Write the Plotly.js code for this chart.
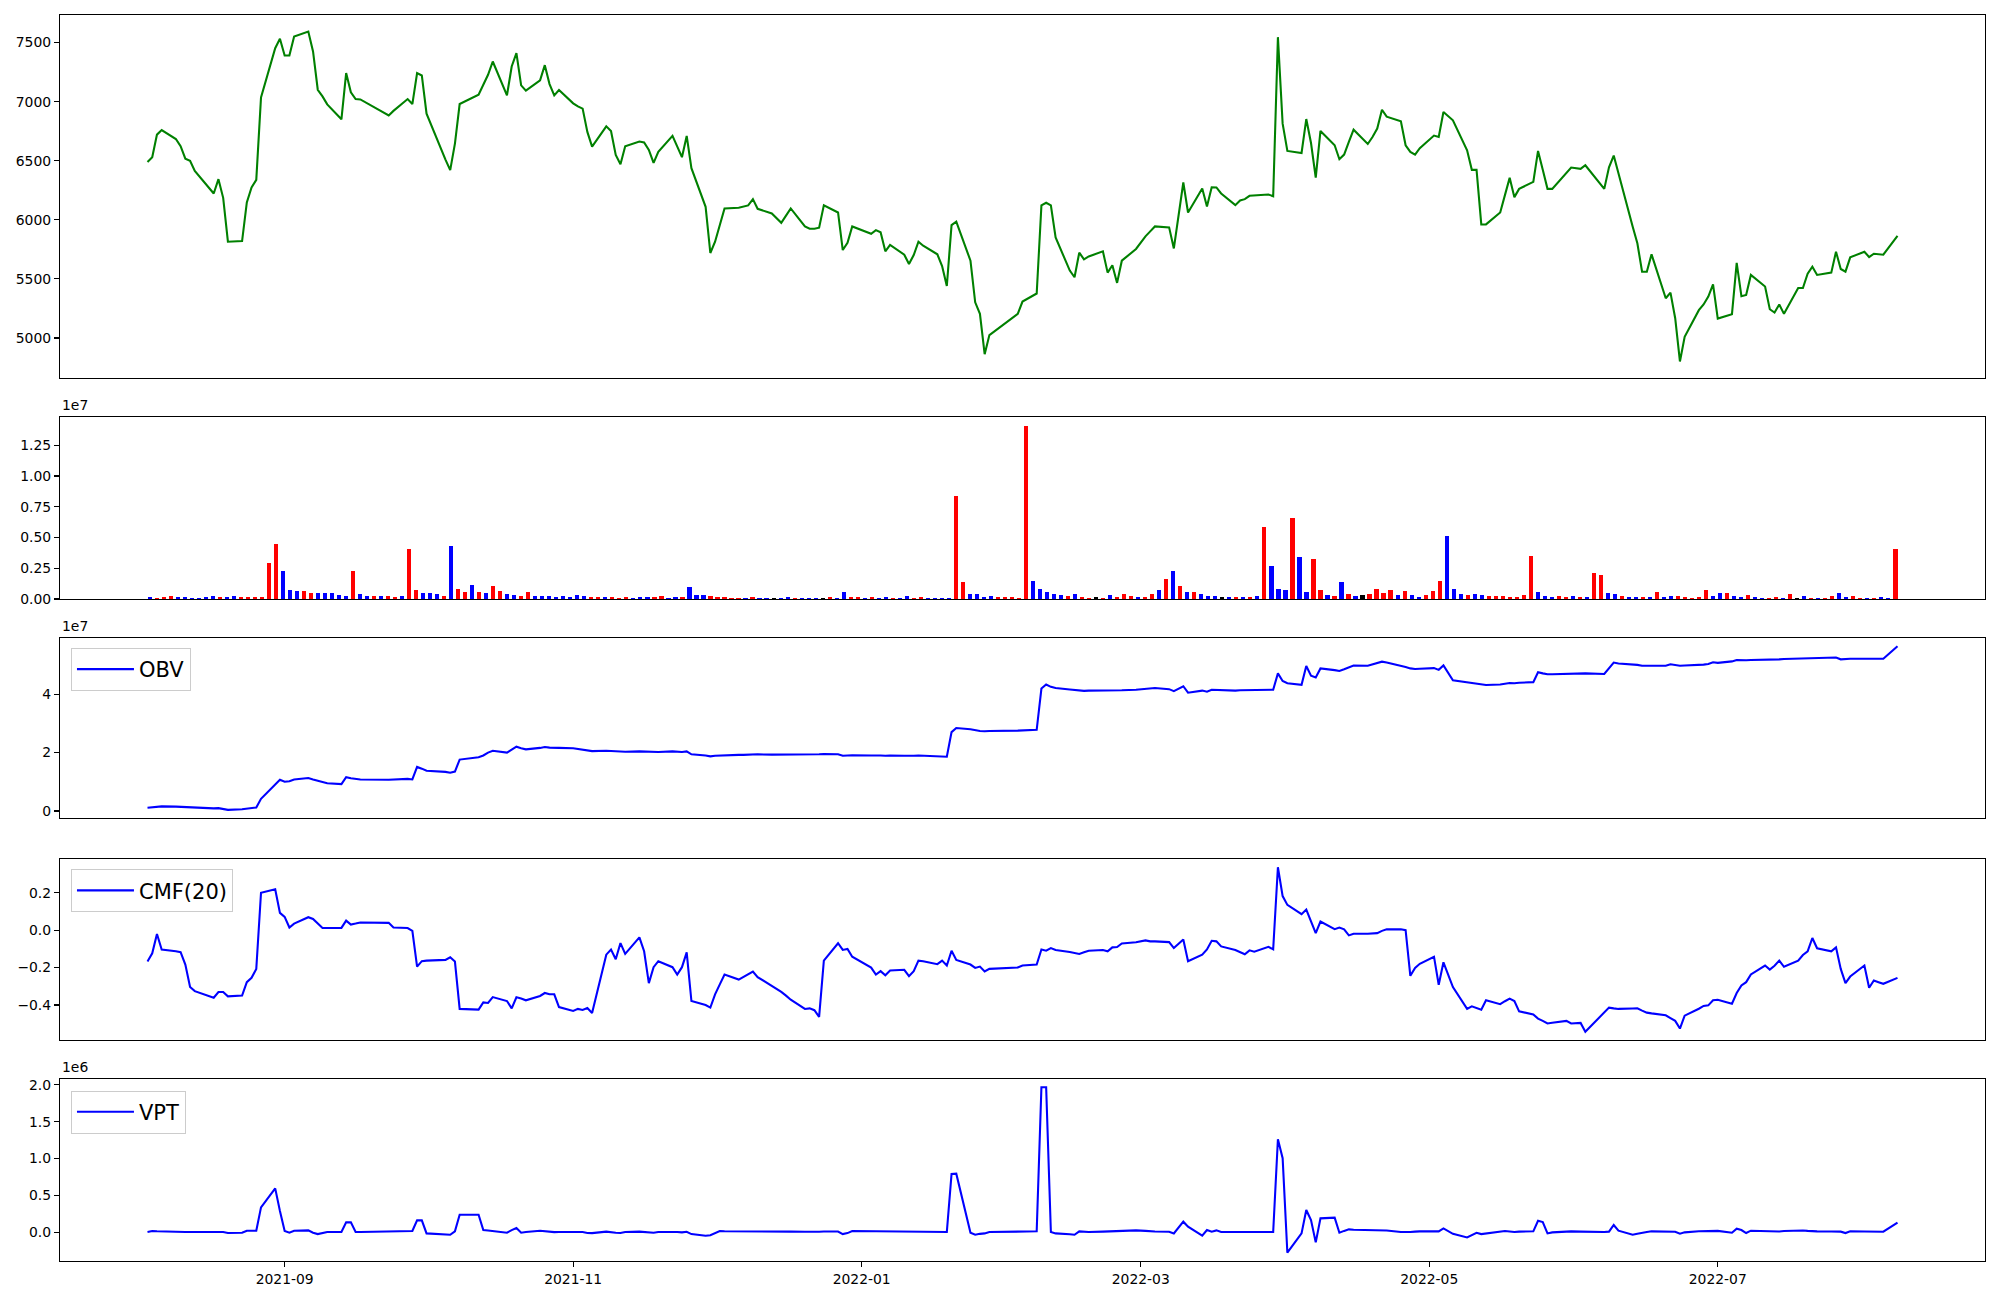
<!DOCTYPE html>
<html>
<head>
<meta charset="utf-8">
<script src="https://cdn.plot.ly/plotly-3.0.1.min.js"></script>
<style>
html, body { margin: 0; padding: 0; background: #ffffff; }
#chart { width: 2000px; height: 1300px; }
</style>
</head>
<body>
<div id="chart"></div>
<script>
// ---------------- DATA ----------------
// Trading calendar (KRX): first and last session, and market holidays in between
const FIRST_DAY = '2021-08-03';
const LAST_DAY = '2022-08-08';
const KRX_HOLIDAYS = ['2021-08-16','2021-09-20','2021-09-21','2021-09-22','2021-10-04','2021-10-11',
  '2021-12-31','2022-01-31','2022-02-01','2022-02-02','2022-03-01','2022-03-09','2022-05-05',
  '2022-06-01','2022-06-06'];

// Closing price, one value per session
const PRICE = [
  6490,6530,6721,6760,6684,6623,6518,6499,6414,6223,6344,6186,5815,5820,6147,6274,6338,7036,7453,7532,
  7391,7391,7552,7594,7425,7101,7045,6977,6851,7242,7079,7022,7019,6884,6922,7022,6980,7242,7222,
  6899,6510,6420,6645,6980,7059,7140,7228,7340,7053,7298,7411,7138,7093,7180,7309,7149,7053,7098,
  6986,6960,6941,6744,6620,6791,6752,6549,6471,6623,6662,6654,6592,6482,6575,6710,6620,6530,6710,6437,6110,5719,
  5815,5950,6096,6102,6112,6122,6175,6093,6054,6015,5975,6035,6096,5944,5924,5924,5933,6122,6062,5744,5806,5944,
  5882,5913,5894,5733,5787,5705,5626,5702,5815,5781,5708,5609,5440,5955,5984,5654,5302,5204,4863,5024,
  5204,5308,5376,6122,6144,6122,5851,5570,5514,5722,5666,5690,5733,5553,5615,5466,5654,5753,
  5860,5902,5944,5936,5758,6316,6062,6265,6113,6276,6274,6223,6124,6164,6175,6203,6206,6214,6200,7546,6814,
  6583,6566,6853,6650,6358,6752,6631,6513,6552,6659,6763,6642,6701,6772,6932,6873,6834,6631,6575,6552,6606,
  6713,6701,6913,6842,6589,6423,6423,5961,5961,6062,6209,6355,6192,6262,6321,6583,6423,6262,6262,6400,6442,
  6431,6462,6262,6445,6544,6389,5944,5801,5561,5561,5708,5336,5384,5167,4801,5010,5235,5283,5350,5454,
  5164,5201,5635,5353,5364,5533,5435,5243,5215,5283,5204,5423,5423,5544,5603,5533,5553,5730,5584,5561,5682,
  5730,5685,5713,5708,5705,5865
];

// Traded volume per session (shares)
const VOLUME = [
  163000,82000,163000,245000,163000,163000,82000,82000,163000,245000,
  163000,163000,245000,163000,163000,163000,163000,2934000,4483000,2282000,
  734000,652000,652000,489000,489000,489000,489000,326000,245000,2282000,
  408000,245000,245000,245000,245000,163000,245000,4076000,734000,489000,
  489000,408000,245000,4320000,815000,571000,1141000,571000,489000,1060000,
  652000,408000,326000,245000,571000,245000,245000,245000,163000,245000,
  163000,326000,245000,163000,163000,163000,163000,82000,163000,82000,
  163000,163000,163000,245000,82000,163000,163000,978000,326000,326000,
  245000,163000,163000,82000,82000,82000,163000,82000,82000,82000,
  82000,163000,82000,82000,82000,82000,82000,163000,82000,571000,
  163000,163000,82000,163000,82000,163000,82000,82000,245000,82000,
  163000,82000,82000,82000,82000,8396000,1386000,408000,408000,163000,
  245000,163000,163000,163000,82000,14101000,1467000,815000,571000,408000,
  326000,245000,408000,163000,82000,163000,82000,326000,163000,408000,
  245000,163000,163000,408000,734000,1630000,2282000,1060000,571000,571000,
  408000,245000,245000,163000,163000,163000,163000,163000,245000,5869000,
  2690000,815000,734000,6602000,3423000,571000,3260000,734000,326000,245000,
  1386000,408000,245000,326000,408000,815000,489000,734000,326000,652000,
  326000,163000,326000,652000,1467000,5135000,815000,408000,326000,408000,
  326000,245000,245000,245000,163000,163000,326000,3505000,571000,245000,
  163000,245000,163000,245000,163000,163000,2119000,1956000,489000,408000,
  245000,163000,163000,163000,163000,571000,163000,245000,245000,163000,
  82000,163000,734000,245000,489000,489000,245000,163000,326000,163000,
  82000,82000,163000,82000,408000,82000,245000,82000,82000,82000,
  245000,489000,163000,245000,82000,82000,82000,163000,82000,4076000
];

// Candle direction of each session: R = up, B = down, K = unchanged
const CANDLE =
  'BRRRBBBBBB' + 'RBBRRRRRRB' + 'BBRRBBBBBR' + 'BBRBRRBRRB' + 'BBRBRRBRBR' +
  'RBBRRBBBBB' + 'BBBRRBRRRB' + 'BBRRBBRBBB' + 'RRRRRBRBBK' + 'BBRBBBKRBB' +
  'RRBRBBRBBR' + 'RBBBBRRBBB' + 'BRRRRRBBBB' + 'BRBRRKRBRR' + 'RBRRBRBRBR' +
  'BBBKBRBRBR' + 'BBBRBBRRBR' + 'BRBKRRRRBR' + 'BBRRRBBBRB' + 'BRRRRRRRBB' +
  'BRRBRBRRBB' + 'RBBRBRBBRR' + 'RRRBBRBBRB' + 'BRRBRKBRBR' + 'RBBRRBRBBR';

// On-balance volume (units of 1e7)
const OBV_E7 = [
  0.11,0.13,0.15,0.16,0.15,0.14,0.13,0.12,0.11,0.09,0.10,0.08,0.04,0.06,0.08,0.10,0.12,0.42,0.90,1.07,
  1.00,1.02,1.08,1.13,1.08,1.03,0.98,0.95,0.92,1.16,1.12,1.09,1.08,1.07,1.08,1.10,1.08,1.51,1.45,
  1.38,1.34,1.31,1.35,1.76,1.84,1.90,2.00,2.06,2.00,2.10,2.20,2.15,2.11,2.16,2.19,2.17,2.16,2.16,
  2.15,2.13,2.10,2.07,2.05,2.06,2.05,2.03,2.02,2.03,2.04,2.03,2.02,2.01,2.02,2.04,2.03,2.02,2.04,1.94,1.90,1.87,
  1.89,1.90,1.91,1.92,1.92,1.93,1.95,1.94,1.93,1.93,1.92,1.93,1.94,1.93,1.93,1.93,1.94,1.95,1.94,1.89,1.90,1.91,
  1.90,1.91,1.90,1.89,1.90,1.89,1.88,1.89,1.90,1.89,1.88,1.87,1.86,2.70,2.84,2.80,2.76,2.74,2.73,2.74,
  2.75,2.76,2.78,4.19,4.33,4.25,4.21,4.16,4.14,4.12,4.11,4.12,4.12,4.11,4.12,4.11,4.13,4.15,
  4.17,4.19,4.21,4.17,4.10,4.27,4.05,4.12,4.08,4.15,4.14,4.13,4.12,4.13,4.13,4.14,4.14,4.15,4.15,4.71,4.45,
  4.37,4.32,4.96,4.63,4.57,4.88,4.82,4.79,4.85,4.92,4.98,4.97,5.01,5.05,5.11,5.08,4.98,4.93,4.88,4.86,4.87,
  4.89,4.83,4.98,4.47,4.40,4.37,4.35,4.31,4.31,4.33,4.36,4.38,4.37,4.39,4.41,4.75,4.71,4.68,4.68,4.70,4.71,
  4.70,4.71,4.69,4.88,5.08,5.05,5.02,5.00,4.97,4.97,4.98,4.97,5.02,4.99,4.97,4.98,4.99,5.01,5.03,5.09,
  5.07,5.12,5.17,5.16,5.16,5.17,5.17,5.18,5.18,5.19,5.20,5.21,5.22,5.23,5.24,5.24,5.25,5.25,5.19,5.20,5.21,
  5.21,5.21,5.21,5.21,5.21,5.64
];

// Chaikin money flow, 20 sessions
const CMF20 = [
  -0.168,-0.124,-0.021,-0.104,-0.113,-0.118,-0.184,-0.304,-0.326,-0.361,-0.331,-0.331,-0.354,-0.350,-0.278,-0.255,-0.207,0.200,0.218,0.092,
  0.071,0.014,0.035,0.069,0.060,0.035,0.011,0.011,0.012,0.051,0.030,0.035,0.041,0.039,0.014,0.011,-0.004,-0.195,-0.166,
  -0.163,-0.159,-0.145,-0.168,-0.421,-0.425,-0.386,-0.389,-0.358,-0.379,-0.418,-0.359,-0.365,-0.375,-0.352,-0.336,-0.343,-0.343,-0.411,
  -0.432,-0.421,-0.427,-0.416,-0.443,-0.131,-0.104,-0.156,-0.069,-0.127,-0.039,-0.113,-0.283,-0.198,-0.166,-0.198,-0.237,-0.198,-0.119,-0.379,-0.400,-0.414,
  -0.343,-0.290,-0.237,-0.264,-0.250,-0.235,-0.221,-0.251,-0.296,-0.315,-0.330,-0.350,-0.372,-0.421,-0.418,-0.428,-0.464,-0.163,-0.070,-0.106,-0.101,-0.142,
  -0.200,-0.237,-0.219,-0.241,-0.216,-0.212,-0.246,-0.219,-0.163,-0.166,-0.182,-0.163,-0.189,-0.110,-0.159,-0.184,-0.202,-0.195,-0.221,-0.207,
  -0.200,-0.189,-0.184,-0.103,-0.110,-0.096,-0.106,-0.117,-0.122,-0.127,-0.118,-0.110,-0.106,-0.113,-0.092,-0.090,-0.071,-0.065,
  -0.055,-0.060,-0.060,-0.064,-0.096,-0.050,-0.166,-0.131,-0.103,-0.057,-0.060,-0.087,-0.106,-0.118,-0.129,-0.108,-0.115,-0.089,-0.103,0.336,0.182,
  0.135,0.085,0.110,0.050,-0.016,0.046,0.005,0.014,0.004,-0.028,-0.019,-0.019,-0.018,-0.016,-0.004,0.004,0.005,0.000,-0.244,-0.202,-0.180,
  -0.142,-0.292,-0.172,-0.304,-0.421,-0.407,-0.415,-0.425,-0.375,-0.396,-0.380,-0.366,-0.379,-0.434,-0.451,-0.473,-0.485,-0.499,-0.495,-0.485,-0.499,
  -0.496,-0.543,-0.440,-0.414,-0.418,-0.421,-0.419,-0.418,-0.430,-0.441,-0.445,-0.455,-0.470,-0.485,-0.526,-0.457,-0.420,-0.405,-0.402,-0.375,
  -0.372,-0.393,-0.336,-0.296,-0.278,-0.237,-0.189,-0.211,-0.190,-0.163,-0.196,-0.163,-0.133,-0.113,-0.042,-0.097,-0.113,-0.092,-0.207,-0.283,-0.248,
  -0.189,-0.308,-0.269,-0.278,-0.287,-0.255
];

// Volume price trend (units of 1e6)
const VPT_E6 = [
  0.005,0.018,0.015,0.012,0.010,0.008,0.006,0.005,0.004,0.005,0.004,0.005,-0.009,-0.005,0.023,0.023,0.023,0.339,0.597,0.290,
  0.018,-0.005,0.023,0.027,-0.005,-0.023,-0.009,0.005,0.005,0.136,0.136,0.005,0.006,0.009,0.010,0.012,0.018,0.163,0.163,
  -0.014,-0.030,-0.032,0.014,0.240,0.240,0.032,0.025,0.018,-0.005,0.030,0.059,-0.005,0.005,0.023,0.015,0.005,0.003,0.005,
  0.005,0.000,0.004,-0.008,-0.010,0.010,0.008,-0.004,-0.008,0.006,0.010,0.004,-0.002,-0.006,0.004,0.010,0.006,0.000,0.008,-0.023,-0.045,-0.040,
  -0.010,0.018,0.015,0.012,0.010,0.010,0.012,0.008,0.006,0.005,0.006,0.008,0.010,0.008,0.006,0.006,0.008,0.012,0.012,-0.023,-0.010,0.018,
  0.016,0.014,0.012,0.010,0.010,0.008,0.006,0.008,0.010,0.012,0.010,0.008,0.005,0.792,0.796,-0.005,-0.032,-0.020,-0.014,0.005,
  0.008,0.010,0.014,1.968,1.968,0.005,-0.014,-0.025,-0.032,0.014,0.008,0.005,0.010,0.012,0.015,0.020,0.027,0.027,
  0.020,0.014,0.012,0.009,-0.014,0.145,0.077,-0.045,0.032,0.009,0.027,0.005,0.005,0.005,0.005,0.005,0.005,0.005,0.005,1.262,1.005,
  -0.276,-0.014,0.303,0.167,-0.136,0.190,0.199,-0.005,0.020,0.041,0.035,0.032,0.032,0.032,0.032,0.025,0.005,0.000,0.005,0.010,0.014,
  0.014,0.014,0.054,-0.020,-0.068,-0.040,-0.005,-0.023,-0.015,0.005,0.018,0.012,0.005,0.010,0.014,0.158,0.140,-0.014,0.000,0.010,0.014,
  0.010,0.008,0.005,0.010,0.100,0.023,-0.032,-0.020,-0.005,0.005,0.014,0.010,0.010,0.009,-0.018,0.000,0.015,0.018,0.020,0.023,
  0.020,-0.005,0.050,0.032,-0.009,0.023,0.015,0.009,0.009,0.012,0.018,0.027,0.025,0.020,0.014,0.014,0.012,0.014,0.010,-0.009,0.014,
  0.012,0.010,0.010,0.009,0.009,0.131
];

const SERIES_NAMES = { obv: 'OBV', cmf: 'CMF(20)', vpt: 'VPT' };
const DATE_TICK_FORMAT = '%Y-%m';

// ---------------- BUILD ----------------
function isoDay(t) { return new Date(t).toISOString().slice(0, 10); }
function isoStamp(t) { return new Date(t).toISOString().replace('T', ' ').slice(0, 19); }

function tradingDays(first, last, holidays) {
  const out = [];
  const hol = new Set(holidays);
  const DAY = 86400000;
  for (let t = Date.parse(first + 'T00:00:00Z'); t <= Date.parse(last + 'T00:00:00Z'); t += DAY) {
    const wd = new Date(t).getUTCDay();
    const s = isoDay(t);
    if (wd === 0 || wd === 6 || hol.has(s)) continue;
    out.push(s);
  }
  return out;
}

const DATES = tradingDays(FIRST_DAY, LAST_DAY, KRX_HOLIDAYS);
const N = DATES.length;
const IDX = DATES.map((_, i) => i);

// matplotlib-like 5% padding
function padRange(arr, frac) {
  let lo = Infinity, hi = -Infinity;
  arr.forEach(v => { if (v < lo) lo = v; if (v > hi) hi = v; });
  const p = (hi - lo) * frac;
  return [lo - p, hi + p];
}
const t0 = Date.parse(DATES[0] + 'T00:00:00Z');
const t1 = Date.parse(DATES[N - 1] + 'T00:00:00Z');
const dPad = (t1 - t0) * 0.05;
const DATE_RANGE = [isoStamp(t0 - dPad), isoStamp(t1 + dPad)];

const BAR_WIDTH = 0.6;
const barLo = -BAR_WIDTH / 2, barHi = (N - 1) + BAR_WIDTH / 2;
const barPad = (barHi - barLo) * 0.05;
const IDX_RANGE = [barLo - barPad, barHi + barPad];

const VOL_E7 = VOLUME.map(v => v / 1e7);
const volMax = Math.max.apply(null, VOL_E7);
const CANDLE_COLORS = { R: '#ff0000', B: '#0000ff', K: '#000000' };
const barColors = CANDLE.split('').map(c => CANDLE_COLORS[c]);

const FONT = 'DejaVu Sans, Liberation Sans, sans-serif';
const TICKFONT = { family: FONT, size: 13.9, color: '#000000' };

const baseAxis = {
  showline: true, mirror: true, linecolor: '#000000', linewidth: 1.1,
  showgrid: false, zeroline: false,
  ticks: 'outside', ticklen: 5, tickwidth: 1.1, tickcolor: '#000000',
  tickfont: TICKFONT
};

// domains (paper fraction) for five stacked panels
const DOM = {
  price: [0.7087, 1.0],
  vol:   [0.5313, 0.6774],
  obv:   [0.3555, 0.5000],
  cmf:   [0.1774, 0.3226],
  vpt:   [0.0000, 0.1461]
};

const traces = [
  { type: 'scatter', mode: 'lines', x: DATES, y: PRICE, xaxis: 'x', yaxis: 'y',
    line: { color: '#008000', width: 2.08 }, showlegend: false, hoverinfo: 'x+y' },
  { type: 'bar', x: IDX, y: VOL_E7, xaxis: 'x2', yaxis: 'y2', width: BAR_WIDTH,
    marker: { color: barColors, line: { width: 0 } }, showlegend: false },
  { type: 'scatter', mode: 'lines', x: DATES, y: OBV_E7, xaxis: 'x3', yaxis: 'y3',
    name: SERIES_NAMES.obv, line: { color: '#0000ff', width: 2.08 }, legend: 'legend' },
  { type: 'scatter', mode: 'lines', x: DATES, y: CMF20, xaxis: 'x4', yaxis: 'y4',
    name: SERIES_NAMES.cmf, line: { color: '#0000ff', width: 2.08 }, legend: 'legend2' },
  { type: 'scatter', mode: 'lines', x: DATES, y: VPT_E6, xaxis: 'x5', yaxis: 'y5',
    name: SERIES_NAMES.vpt, line: { color: '#0000ff', width: 2.08 }, legend: 'legend3' }
];

function hiddenDateAxis(anchor) {
  return Object.assign({}, baseAxis, { type: 'date', range: DATE_RANGE, anchor: anchor,
    showticklabels: false, ticks: '' });
}

const legendBase = {
  xanchor: 'left', yanchor: 'top', x: 0.0057,
  bgcolor: 'rgba(255,255,255,0.8)', bordercolor: '#cccccc', borderwidth: 1,
  font: { family: FONT, size: 21, color: '#000000' },
  itemwidth: 57, tracegroupgap: 0
};

const offsetNote = (text, yTop) => ({
  text: text, xref: 'paper', yref: 'paper', x: 0, y: yTop, xanchor: 'left', yanchor: 'bottom',
  yshift: 2, showarrow: false, font: TICKFONT
});

const layout = {
  width: 2000, height: 1300,
  margin: { l: 60, r: 15, t: 15, b: 39, pad: 0 },
  paper_bgcolor: '#ffffff', plot_bgcolor: '#ffffff',
  font: { family: FONT, size: 13.9, color: '#000000' },
  showlegend: true,
  bargap: 0,
  xaxis: hiddenDateAxis('y'),
  yaxis: Object.assign({}, baseAxis, { domain: DOM.price, anchor: 'x', range: padRange(PRICE, 0.05),
    dtick: 500, tick0: 0, tickformat: 'd' }),
  xaxis2: Object.assign({}, baseAxis, { type: 'linear', range: IDX_RANGE, anchor: 'y2',
    showticklabels: false, ticks: '' }),
  yaxis2: Object.assign({}, baseAxis, { domain: DOM.vol, anchor: 'x2', range: [0, volMax * 1.05],
    dtick: 0.25, tick0: 0, tickformat: '.2f' }),
  xaxis3: hiddenDateAxis('y3'),
  yaxis3: Object.assign({}, baseAxis, { domain: DOM.obv, anchor: 'x3', range: padRange(OBV_E7, 0.05),
    dtick: 2, tick0: 0, tickformat: 'd' }),
  xaxis4: hiddenDateAxis('y4'),
  yaxis4: Object.assign({}, baseAxis, { domain: DOM.cmf, anchor: 'x4', range: padRange(CMF20, 0.05),
    dtick: 0.2, tick0: 0, tickformat: '.1f' }),
  xaxis5: Object.assign({}, baseAxis, { type: 'date', range: DATE_RANGE, anchor: 'y5',
    dtick: 'M2', tick0: '2021-09-01', tickformat: DATE_TICK_FORMAT }),
  yaxis5: Object.assign({}, baseAxis, { domain: DOM.vpt, anchor: 'x5', range: padRange(VPT_E6, 0.05),
    dtick: 0.5, tick0: 0, tickformat: '.1f' }),
  legend: Object.assign({}, legendBase, { y: 0.492 }),
  legend2: Object.assign({}, legendBase, { y: 0.3144 }),
  legend3: Object.assign({}, legendBase, { y: 0.1367 }),
  annotations: [
    offsetNote('1e7', DOM.vol[1]),
    offsetNote('1e7', DOM.obv[1]),
    offsetNote('1e6', DOM.vpt[1])
  ]
};

Plotly.newPlot('chart', traces, layout, { staticPlot: true, displayModeBar: false });
</script>
</body>
</html>
